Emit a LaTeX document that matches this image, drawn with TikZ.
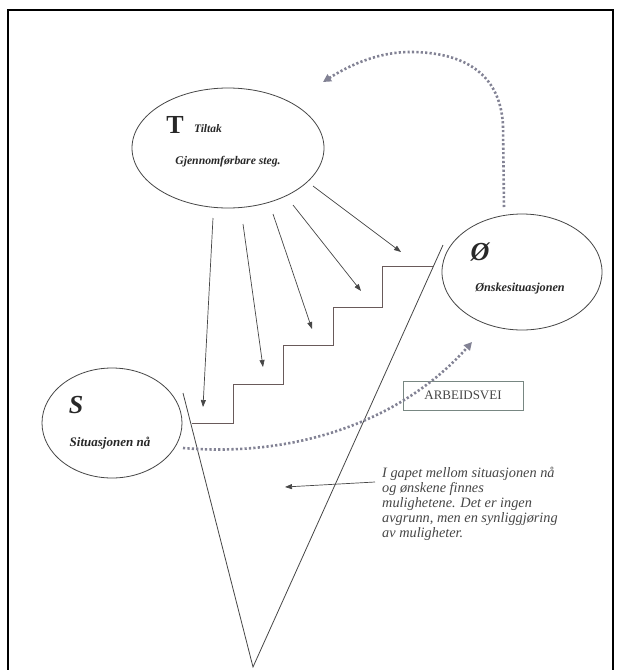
\documentclass[tikz,border=0pt]{standalone}
\usepackage{fontspec}
\setmainfont{Liberation Serif}
\usetikzlibrary{shapes.geometric,arrows.meta}
\definecolor{ink}{RGB}{70,70,70}
\definecolor{txt}{RGB}{40,40,40}
\definecolor{dotc}{RGB}{130,130,148}
\definecolor{stairc}{RGB}{105,90,90}
\definecolor{boxc}{RGB}{120,135,130}
\tikzset{
  ell/.style={draw=ink, line width=0.8pt, ellipse, inner sep=0pt},
  lbl/.style={inner sep=0pt, text=txt},
  arr/.style={draw=ink, line width=0.7pt, -{Triangle[length=7pt,width=5pt]}},
  dotline/.style={draw=dotc, line width=2.6pt, dash pattern=on 2.2pt off 2.2pt,
    -{Triangle[length=8pt,width=8pt,fill=dotc]}},
  stairline/.style={draw=stairc, line width=0.8pt},
  vline/.style={draw=ink, line width=0.8pt}
}
\begin{document}
\begin{tikzpicture}[x=1pt,y=-1pt]
\useasboundingbox (0,0) rectangle (620,670);
\fill[white] (0,0) rectangle (620,670);
% frame
\draw[line width=2.2pt, black] (8,680) -- (8,10) -- (613,10) -- (613,680);

% ellipses
\node[ell, minimum width=192pt, minimum height=120pt] (T) at (228,148) {};
\node[ell, minimum width=160pt, minimum height=116pt] (O) at (522,272) {};
\node[ell, minimum width=140pt, minimum height=110pt] (S) at (112,423) {};

% labels in T
\node[lbl, font=\fontsize{26}{28}\selectfont\bfseries] (Tl) at (175,125) {T};
\node[lbl, font=\fontsize{11.5}{13}\selectfont\bfseries\itshape] (Tt) at (208,129) {Tiltak};
\node[lbl, font=\fontsize{11.7}{13}\selectfont\bfseries\itshape] (Tg) at (228,162) {Gjennomførbare steg.};
% labels in O
\node[lbl, font=\fontsize{26}{28}\selectfont\bfseries\itshape] (Ol) at (480,252) {Ø};
\node[lbl, font=\fontsize{12.2}{13}\selectfont\bfseries\itshape] (Ot) at (520,289) {Ønskesituasjonen};
% labels in S
\node[lbl, font=\fontsize{26}{28}\selectfont\bfseries\itshape] (Sl) at (76,405) {S};
\node[lbl, font=\fontsize{13}{14}\selectfont\bfseries\itshape] (St) at (110,443) {Situasjonen nå};

% triangle
\draw[vline] (183,393) -- (253,667) -- (443,245);

% staircase
\draw[stairline] (192,423) -- (233,423) -- (233,384) -- (283,384) -- (283,345)
  -- (333,345) -- (333,307) -- (382,307) -- (382,266) -- (433,266);

% arrows from T to the steps
\coordinate (a1s) at (213,218); \coordinate (a1e) at (203,407);
\coordinate (a2s) at (243,224); \coordinate (a2e) at (263,367);
\coordinate (a3s) at (273,214); \coordinate (a3e) at (312,329);
\coordinate (a4s) at (293,205); \coordinate (a4e) at (361,291);
\coordinate (a5s) at (313,186); \coordinate (a5e) at (401,252);
\draw[arr] (a1s) -- (a1e);
\draw[arr] (a2s) -- (a2e);
\draw[arr] (a3s) -- (a3e);
\draw[arr] (a4s) -- (a4e);
\draw[arr] (a5s) -- (a5e);

% ARBEIDSVEI box
\node[draw=boxc, line width=0.8pt, minimum width=120pt, minimum height=29pt, inner sep=0pt,
  text=ink, font=\fontsize{13}{14}\selectfont] (box) at (463,395.5) {ARBEIDSVEI};

% dotted paths
\coordinate (u1) at (504,207);
\coordinate (u2) at (323,82);
\draw[dotline] (u1) -- (503,125) .. controls (500,72) and (462,52) .. (410,52)
  .. controls (375,52) and (345,68) .. (u2);
\coordinate (l1) at (183,448);
\coordinate (l2) at (472,342);
\draw[dotline] (l1) .. controls (300,458) and (405,418) .. (l2);

% comment
\node[lbl, anchor=north west, align=left, text=ink,
  font=\fontsize{14.3}{15}\selectfont\itshape] (cm) at (382,467)
  {I gapet mellom situasjonen nå\\og ønskene finnes\\mulighetene. Det er ingen\\avgrunn, men en synliggjøring\\av muligheter.};
\coordinate (cs) at (375,482);
\coordinate (ce) at (285,487);
\draw[arr] (cs) -- (ce);
\end{tikzpicture}
\end{document}
